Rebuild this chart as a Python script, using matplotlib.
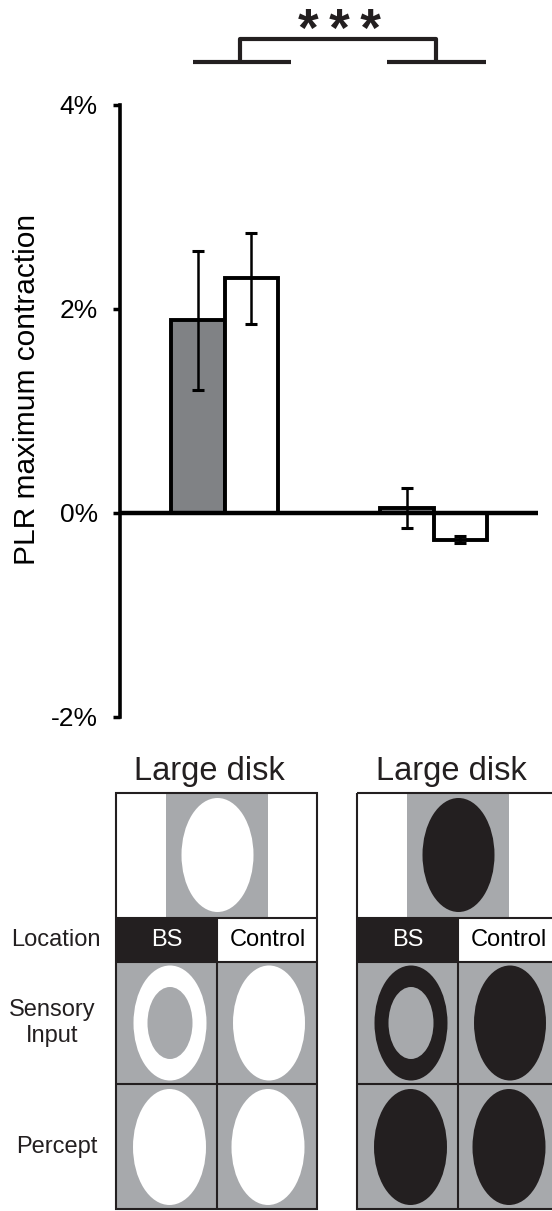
import matplotlib
matplotlib.use("Agg")
import matplotlib.pyplot as plt
from matplotlib.patches import Rectangle, Ellipse

plt.rcParams['font.family'] = ['Liberation Sans', 'DejaVu Sans']

# ---- data: PLR maximum contraction (%) ----
conditions = ['BS', 'Control']
stimuli = ['Large disk (white)', 'Large disk (black)']
bs_mean = [1.89, 0.05]
bs_err = [0.68, 0.20]
ctrl_mean = [2.30, -0.26]
ctrl_err = [0.45, 0.03]
y_ticks = [-2, 0, 2, 4]
y_tick_labels = ['-2%', '0%', '2%', '4%']
significance = '***'

INK = '#231f20'
BAR_GRAY = '#808285'
PANEL_GRAY = '#a7a9ac'

W, H = 552, 1211
fig = plt.figure(figsize=(W / 100, H / 100), dpi=100)

# ---- schematic panels (pixel-coordinate canvas) ----
sk = fig.add_axes([0, 0, 1, 1])
sk.set_xlim(0, W)
sk.set_ylim(H, 0)
sk.set_axis_off()

row_top, row_loc, row_sens, row_perc, row_bot = 793, 918, 962, 1084, 1209
panel_w, cell_w = 201, 101


def draw_panel(x0, fg, title_x):
    xm = x0 + cell_w
    # stimulus preview
    sk.add_patch(Rectangle((x0, row_top), panel_w, row_loc - row_top, fc='white', ec='none'))
    sk.add_patch(Rectangle((x0 + 50, row_top), 102, row_loc - row_top, fc=PANEL_GRAY, ec='none'))
    sk.add_patch(Ellipse((x0 + 101.5, 855), 72, 114, fc=fg, ec='none'))
    # location row
    sk.add_patch(Rectangle((x0, row_loc), cell_w, row_sens - row_loc, fc=INK, ec='none'))
    sk.add_patch(Rectangle((xm, row_loc), panel_w - cell_w, row_sens - row_loc, fc='white', ec='none'))
    sk.text(x0 + cell_w / 2, 940, conditions[0], color='white', fontsize=17, ha='center', va='center')
    sk.text(xm + cell_w / 2, 940, conditions[1], color='black', fontsize=17, ha='center', va='center')
    # sensory input / percept rows
    sk.add_patch(Rectangle((x0, row_sens), panel_w, row_bot - row_sens, fc=PANEL_GRAY, ec='none'))
    c1, c2 = x0 + cell_w / 2, xm + cell_w / 2
    sk.add_patch(Ellipse((c1 + 3.5, 1023), 73, 115, fc=fg, ec='none'))
    sk.add_patch(Ellipse((c1 + 3.5, 1023), 45, 72, fc=PANEL_GRAY, ec='none'))
    sk.add_patch(Ellipse((c2 + 1.5, 1023), 72, 115, fc=fg, ec='none'))
    sk.add_patch(Ellipse((c1 + 3, 1147), 73, 116, fc=fg, ec='none'))
    sk.add_patch(Ellipse((c2 + 0.5, 1147), 73, 116, fc=fg, ec='none'))
    # grid lines
    lw = 1.5
    sk.add_patch(Rectangle((x0, row_top), panel_w, row_bot - row_top, fc='none', ec=INK, lw=lw))
    for yy in (row_loc, row_sens, row_perc):
        sk.plot([x0, x0 + panel_w], [yy, yy], color=INK, lw=lw, solid_capstyle='butt')
    sk.plot([xm, xm], [row_loc, row_bot], color=INK, lw=lw, solid_capstyle='butt')
    sk.text(title_x, 780, 'Large disk', fontsize=23.5, ha='center', va='baseline', color=INK)


draw_panel(116, 'white', 209.5)
draw_panel(357, INK, 451.5)

sk.text(56, 940, 'Location', fontsize=17, ha='center', va='center', color=INK)
sk.text(52, 1023, 'Sensory\nInput', fontsize=17, ha='center', va='center', color=INK,
        multialignment='center')
sk.text(57, 1147, 'Percept', fontsize=17, ha='center', va='center', color=INK)

# ---- bar chart ----
ax = fig.add_axes([120 / W, (H - 717) / H, (538 - 120) / W, (717 - 105) / H])
ax.patch.set_alpha(0)
group_x = [0.25, 0.75]
bw = 0.128
bs_x = [g - bw / 2 for g in group_x]
ctrl_x = [g + bw / 2 for g in group_x]

ax.bar(bs_x, bs_mean, width=bw, color=BAR_GRAY, edgecolor='black', linewidth=2.8, zorder=2)
ax.bar(ctrl_x, ctrl_mean, width=bw, color='white', edgecolor='black', linewidth=2.8, zorder=2)
ax.errorbar(bs_x, bs_mean, yerr=bs_err, fmt='none', ecolor='black', elinewidth=1.8,
            capsize=4.3, capthick=2.2, zorder=3)
ax.errorbar(ctrl_x, ctrl_mean, yerr=ctrl_err, fmt='none', ecolor='black', elinewidth=1.8,
            capsize=4.3, capthick=2.2, zorder=3)
ax.axhline(0, color='black', lw=3.2, zorder=4)

ax.set_xlim(0, 1)
ax.set_ylim(-2, 4)
ax.set_xticks([])
ax.set_yticks(y_ticks)
ax.set_yticklabels(y_tick_labels, fontsize=19)
ax.tick_params(axis='y', direction='out', length=5, width=2.5, pad=11, colors='black')
for s in ('top', 'right', 'bottom'):
    ax.spines[s].set_visible(False)
ax.spines['left'].set_linewidth(2.6)
ax.set_ylabel('PLR maximum contraction', fontsize=21.5)
ax.yaxis.set_label_coords(-0.19, 0.535)

# significance bracket
br_kw = dict(color=INK, lw=3, clip_on=False, solid_capstyle='butt', transform=ax.transData)
ax.plot([0.175, 0.409], [4.42, 4.42], **br_kw)
ax.plot([0.639, 0.876], [4.42, 4.42], **br_kw)
ax.plot([0.287, 0.287, 0.756, 0.756], [4.42, 4.65, 4.65, 4.42], **br_kw)
ax.text(0.524, 4.58, '\u2009'.join(significance), fontsize=38, fontweight='bold',
        ha='center', va='baseline', color=INK, clip_on=False)

fig.savefig('out.png', dpi=100)
